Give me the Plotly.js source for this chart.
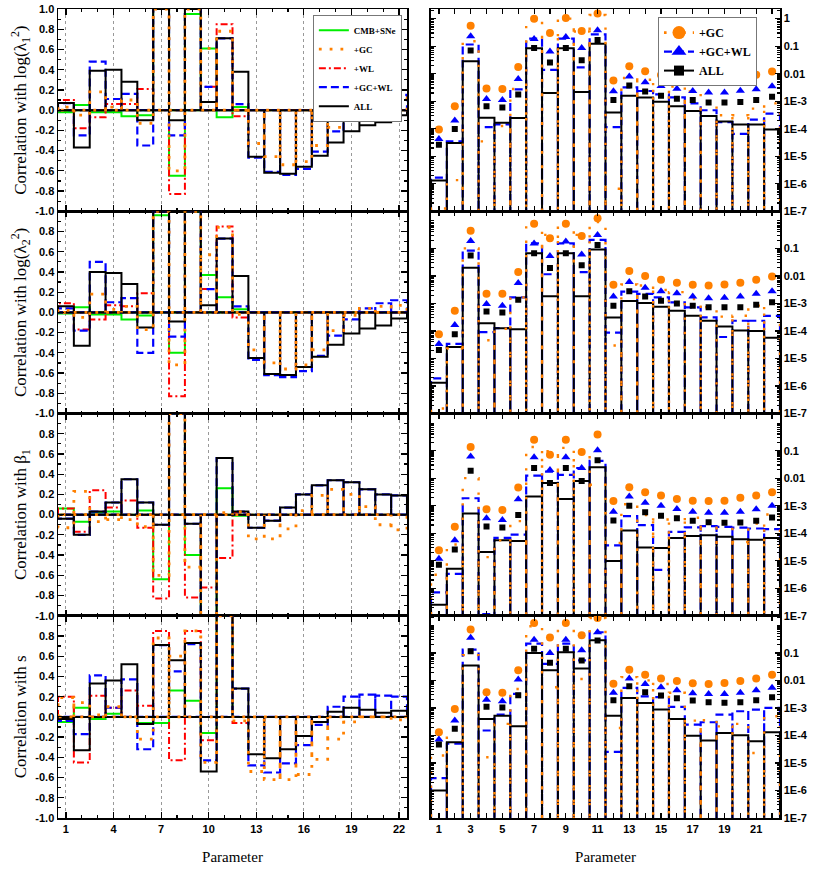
<!DOCTYPE html>
<html><head><meta charset="utf-8">
<script src="https://cdn.plot.ly/plotly-3.0.1.min.js"></script>
<style>html,body{margin:0;padding:0;background:#fff}#chart{width:830px;height:882px}</style>
</head><body><div id="chart"></div>
<script>
// ---------- categories / ticks ----------
const params = [1,2,3,4,5,6,7,8,9,10,11,12,13,14,15,16,17,18,19,20,21,22];
const corrTickVals = [-1,-0.8,-0.6,-0.4,-0.2,0,0.2,0.4,0.6,0.8,1];
const corrTickText = ['-1.0','-0.8','-0.6','-0.4','-0.2','0.0','0.2','0.4','0.6','0.8','1.0'];
const logTickVals = [1e-7,1e-6,1e-5,1e-4,1e-3,0.01,0.1,1];
const logTickText = ['1E-7','1E-6','1E-5','1E-4','1E-3','0.01','0.1','1'];
const leftTitles = ['Correlation with log(λ<sub>1</sub><sup>2</sup>)','Correlation with log(λ<sub>2</sub><sup>2</sup>)','Correlation with β<sub>1</sub>','Correlation with s'];
const seriesNames = ['CMB+SNe','+GC','+WL','+GC+WL','ALL'];

// ---------- left column: correlation coefficients ----------
// row 1: log(lambda1^2)
const L1_CMB  = [-0.02,0.05,-0.02,-0.02,-0.06,-0.05,1.0,-0.65,0.95,0.61,-0.07,0.03,0,0,0,0,0,0,0,0,0,0];
const L1_GC   = [0.03,-0.05,0.18,0.03,0.10,-0.13,1.0,-0.60,1.0,0.61,0.78,0.0,-0.33,-0.46,-0.54,-0.51,-0.35,-0.17,0.0,0.07,0.09,0.12];
const L1_WL   = [0.10,-0.18,-0.07,0.06,0.06,0.21,1.0,-0.83,1.0,0.23,0.85,-0.06,0,0,0,0,0,0,0,0,0,0];
const L1_GCWL = [0.07,-0.25,0.48,0.11,0.16,-0.35,1.0,-0.25,1.0,0.23,0.71,0.06,-0.47,-0.61,-0.64,-0.58,-0.41,-0.21,-0.05,0.06,0.12,0.15];
const L1_ALL  = [0.07,-0.37,0.39,0.40,0.28,-0.10,1.0,-0.10,1.0,0.08,0.71,0.38,-0.46,-0.62,-0.63,-0.56,-0.45,-0.32,-0.21,-0.15,-0.12,-0.05];
// row 2: log(lambda2^2)
const L2_CMB  = [-0.01,0.05,-0.02,-0.02,-0.07,-0.03,0.96,-0.40,1.0,0.37,0.15,0.03,0,0,0,0,0,0,0,0,0,0];
const L2_GC   = [0.02,-0.05,0.18,0.03,0.06,-0.17,1.0,-0.52,1.0,0.57,0.84,-0.02,-0.37,-0.50,-0.56,-0.52,-0.37,-0.18,-0.03,0.04,0.06,0.07];
const L2_WL   = [0.09,-0.17,-0.07,0.07,0.06,0.19,1.0,-0.83,1.0,0.23,0.85,-0.05,0,0,0,0,0,0,0,0,0,0];
const L2_GCWL = [0.04,-0.18,0.50,0.10,0.14,-0.40,1.0,-0.24,1.0,0.23,0.73,0.06,-0.47,-0.62,-0.64,-0.58,-0.43,-0.23,-0.07,0.04,0.09,0.12];
const L2_ALL  = [0.06,-0.33,0.40,0.39,0.28,-0.15,1.0,-0.09,1.0,0.07,0.73,0.36,-0.45,-0.61,-0.62,-0.54,-0.44,-0.32,-0.21,-0.16,-0.13,-0.06];
// row 3: beta1
const L3_CMB  = [0.06,-0.07,0.02,0.03,0.0,0.04,-0.64,1.0,-0.40,-1.0,0.26,-0.01,0,0,0,0,0,0,0,0,0,0];
const L3_GC   = [-0.13,0.23,-0.07,-0.05,-0.05,-0.12,-0.60,1.0,-0.52,-1.0,0.02,0.03,-0.24,-0.24,-0.14,0.04,0.19,0.25,0.20,0.08,-0.10,-0.15];
const L3_WL   = [0.06,-0.17,0.24,0.07,0.14,-0.13,-0.83,1.0,-0.82,-0.72,-0.43,0.02,0,0,0,0,0,0,0,0,0,0];
const L3_GCWL = [-0.04,-0.20,0.03,0.12,0.35,0.12,-0.10,1.0,-0.09,-1.0,0.56,0.03,-0.13,-0.06,0.07,0.20,0.29,0.34,0.32,0.25,0.20,0.19];
const L3_ALL  = [-0.04,-0.20,0.03,0.12,0.35,0.12,-0.10,1.0,-0.09,-1.0,0.56,0.03,-0.13,-0.06,0.07,0.20,0.29,0.34,0.32,0.25,0.20,0.19];
// row 4: s
const L4_CMB  = [-0.05,0.09,-0.02,0.03,0.0,-0.06,-0.06,0.26,0.16,-0.16,1.0,0.0,0,0,0,0,0,0,0,0,0,0];
const L4_GC   = [0.19,0.14,0.02,0.10,0.0,-0.22,0.78,0.60,0.85,-0.45,1.0,-0.04,-0.54,-0.62,-0.62,-0.57,-0.42,-0.22,-0.05,0.0,0.0,-0.03];
const L4_WL   = [0.20,-0.45,0.21,0.09,0.26,0.11,0.85,-0.43,0.85,-0.23,1.0,-0.06,0,0,0,0,0,0,0,0,0,0];
const L4_GCWL = [-0.04,-0.17,0.41,0.09,0.37,-0.32,0.71,0.45,0.72,-0.43,1.0,0.28,-0.48,-0.55,-0.46,-0.28,-0.08,0.10,0.20,0.22,0.21,0.20];
const L4_ALL  = [-0.02,-0.33,0.33,0.36,0.52,-0.07,0.71,0.56,0.73,-0.54,1.0,0.28,-0.37,-0.41,-0.32,-0.19,-0.05,0.05,0.09,0.07,0.04,0.06];

// ---------- right column: values read as log10 exponents ----------
const R1_GC_bar_log10   = [-6.9,-5.87,-0.82,-4.46,-3.9,-2.56,0.0,-0.47,0.0,-0.47,0.13,-6.18,-2.16,-2.22,-2.29,-2.47,-2.65,-3.02,-3.51,-3.51,-3.27,-3.08];
const R1_GCWL_bar_log10 = [-5.78,-4.46,-0.94,-3.94,-3.84,-2.57,-0.73,-1.86,-0.73,-1.77,-0.57,-3.94,-2.50,-2.63,-2.75,-2.86,-3.08,-3.33,-3.76,-4.19,-3.67,-3.45];
const R1_ALL_bar_log10  = [-5.88,-4.52,-1.55,-3.60,-3.78,-3.61,-1.08,-2.70,-1.08,-2.67,-0.91,-3.41,-2.80,-2.87,-3.02,-3.18,-3.36,-3.54,-3.74,-3.85,-3.85,-4.03];
const R1_GC_pt_log10    = [-4.03,-3.18,-0.26,-2.54,-2.56,-1.76,0.0,-0.52,0.02,-0.45,0.19,-2.25,-1.73,-1.91,-2.05,-2.15,-2.22,-2.25,-2.22,-2.16,-2.04,-1.92];
const R1_GCWL_pt_log10  = [-4.37,-3.70,-0.64,-2.92,-2.96,-2.19,-0.74,-1.19,-0.67,-1.07,-0.42,-2.64,-2.10,-2.31,-2.45,-2.55,-2.63,-2.68,-2.68,-2.62,-2.57,-2.46];
const R1_ALL_pt_log10   = [-4.58,-4.01,-1.16,-3.18,-3.23,-2.76,-1.07,-1.59,-1.07,-1.51,-0.78,-2.96,-2.43,-2.65,-2.80,-2.91,-2.96,-3.05,-3.05,-3.03,-2.96,-2.84];

const R2_GC_bar_log10   = [-6.82,-4.64,-1.0,-4.34,-3.92,-2.78,-0.1,-0.51,-0.1,-0.51,-0.04,-4.53,-2.31,-2.35,-2.51,-2.59,-2.84,-3.14,-3.48,-3.45,-3.08,-2.98];
const R2_GCWL_bar_log10 = [-5.72,-4.47,-1.08,-4.04,-3.90,-2.78,-0.82,-1.94,-0.82,-1.86,-0.69,-4.06,-2.57,-2.65,-2.78,-2.96,-3.14,-3.51,-4.22,-3.63,-3.63,-3.45];
const R2_ALL_bar_log10  = [-5.88,-4.58,-1.70,-3.72,-3.90,-3.94,-1.18,-2.74,-1.18,-2.74,-1.04,-3.51,-2.91,-2.98,-3.12,-3.27,-3.45,-3.63,-3.84,-3.98,-4.00,-4.25];
const R2_GC_pt_log10    = [-4.12,-3.27,-0.36,-2.65,-2.65,-1.86,-0.10,-0.63,-0.10,-0.55,0.10,-2.32,-1.82,-2.0,-2.14,-2.25,-2.32,-2.35,-2.31,-2.25,-2.14,-2.02];
const R2_GCWL_pt_log10  = [-4.47,-3.78,-0.73,-3.02,-3.08,-2.26,-0.82,-1.28,-0.75,-1.22,-0.51,-2.75,-2.22,-2.43,-2.56,-2.63,-2.75,-2.81,-2.79,-2.75,-2.65,-2.56];
const R2_ALL_pt_log10   = [-4.69,-4.12,-1.26,-3.29,-3.33,-2.87,-1.18,-1.71,-1.18,-1.61,-0.88,-3.08,-2.56,-2.75,-2.90,-3.0,-3.08,-3.14,-3.14,-3.14,-3.05,-2.96];

const R3_GC_bar_log10   = [-5.51,-4.41,-2.0,-4.87,-4.26,-3.56,-0.87,-1.02,-0.90,-1.06,-2.24,-4.35,-2.95,-3.34,-3.50,-3.40,-3.44,-3.56,-3.59,-4.32,-3.65,-3.32];
const R3_GCWL_bar_log10 = [-6.15,-5.48,-2.73,-6.94,-4.17,-4.05,-1.91,-1.76,-1.88,-1.63,-1.37,-4.44,-3.38,-3.71,-5.33,-3.95,-3.79,-3.74,-3.77,-3.80,-3.83,-3.85];
const R3_ALL_bar_log10  = [-6.60,-5.29,-3.28,-4.68,-4.26,-4.28,-2.67,-2.18,-2.76,-2.10,-1.60,-5.01,-3.90,-4.52,-4.54,-4.17,-4.10,-4.07,-4.13,-4.22,-4.24,-4.17];
const R3_GC_pt_log10    = [-4.62,-3.77,-0.87,-3.13,-3.16,-2.34,-0.60,-1.15,-0.60,-1.05,-0.41,-2.83,-2.33,-2.51,-2.63,-2.76,-2.82,-2.83,-2.82,-2.71,-2.63,-2.51];
const R3_GCWL_pt_log10  = [-4.93,-4.26,-1.21,-3.46,-3.52,-2.77,-1.24,-1.70,-1.24,-1.63,-0.99,-3.22,-2.67,-2.89,-3.0,-3.12,-3.22,-3.26,-3.26,-3.22,-3.13,-3.0];
const R3_ALL_pt_log10   = [-5.15,-4.59,-1.73,-3.76,-3.79,-3.34,-1.63,-2.18,-1.63,-2.10,-1.35,-3.54,-3.0,-3.24,-3.37,-3.46,-3.55,-3.60,-3.62,-3.61,-3.55,-3.43];

const R4_GC_bar_log10   = [-4.73,-3.79,-1.08,-4.79,-3.58,-2.31,-0.03,-2.25,0.03,-1.95,0.27,-3.73,-1.88,-2.0,-2.13,-2.45,-3.46,-3.45,-3.67,-3.58,-4.64,-3.30];
const R4_GCWL_bar_log10 = [-5.55,-4.30,-0.88,-3.82,-3.24,-2.49,-0.66,-1.40,-0.66,-1.27,-0.25,-4.60,-2.27,-2.58,-2.61,-2.96,-3.61,-3.52,-3.24,-3.12,-3.06,-3.0];
const R4_ALL_bar_log10  = [-6.0,-4.25,-1.46,-3.40,-3.28,-3.67,-1.0,-1.63,-0.98,-1.57,-0.54,-3.28,-2.64,-2.82,-3.06,-3.40,-4.01,-4.18,-3.91,-3.99,-4.21,-3.88];
const R4_GC_pt_log10    = [-3.88,-3.04,-0.15,-2.43,-2.45,-1.63,0.09,-0.44,0.09,-0.36,0.27,-2.12,-1.61,-1.79,-1.93,-2.02,-2.10,-2.13,-2.09,-2.02,-1.93,-1.79];
const R4_GCWL_pt_log10  = [-4.15,-3.46,-0.45,-2.70,-2.76,-1.97,-0.52,-1.0,-0.52,-0.90,-0.25,-2.45,-1.93,-2.13,-2.25,-2.36,-2.47,-2.49,-2.49,-2.45,-2.36,-2.27];
const R4_ALL_pt_log10   = [-4.33,-3.76,-0.94,-2.96,-2.98,-2.54,-0.85,-1.36,-0.85,-1.28,-0.55,-2.72,-2.21,-2.43,-2.55,-2.65,-2.73,-2.79,-2.81,-2.79,-2.72,-2.61];

// ---------- assemble ----------
const leftRows = [
  [L1_CMB,L1_GC,L1_WL,L1_GCWL,L1_ALL],
  [L2_CMB,L2_GC,L2_WL,L2_GCWL,L2_ALL],
  [L3_CMB,L3_GC,L3_WL,L3_GCWL,L3_ALL],
  [L4_CMB,L4_GC,L4_WL,L4_GCWL,L4_ALL]
];
const rightRows = [
  {gcBar:R1_GC_bar_log10,gcwlBar:R1_GCWL_bar_log10,allBar:R1_ALL_bar_log10,gcPt:R1_GC_pt_log10,gcwlPt:R1_GCWL_pt_log10,allPt:R1_ALL_pt_log10},
  {gcBar:R2_GC_bar_log10,gcwlBar:R2_GCWL_bar_log10,allBar:R2_ALL_bar_log10,gcPt:R2_GC_pt_log10,gcwlPt:R2_GCWL_pt_log10,allPt:R2_ALL_pt_log10},
  {gcBar:R3_GC_bar_log10,gcwlBar:R3_GCWL_bar_log10,allBar:R3_ALL_bar_log10,gcPt:R3_GC_pt_log10,gcwlPt:R3_GCWL_pt_log10,allPt:R3_ALL_pt_log10},
  {gcBar:R4_GC_bar_log10,gcwlBar:R4_GCWL_bar_log10,allBar:R4_ALL_bar_log10,gcPt:R4_GC_pt_log10,gcwlPt:R4_GCWL_pt_log10,allPt:R4_ALL_pt_log10}
];

const COL = {cmb:'#00ee00', gc:'#ff8000', wl:'#ff0000', gcwl:'#0000ff', all:'#000000'};
const leftStyle = [
  {name:'CMB+SNe', line:{color:COL.cmb,width:2,dash:'solid'}, rank:1},
  {name:'+GC',     line:{color:COL.gc,width:2.8,dash:'2.8px,8px'}, rank:2},
  {name:'+WL',     line:{color:COL.wl,width:2,dash:'7px,3px,2px,3px'}, rank:3},
  {name:'+GC+WL',  line:{color:COL.gcwl,width:2.2,dash:'8px,4px'}, rank:4},
  {name:'ALL',     line:{color:COL.all,width:2,dash:'solid'}, rank:5}
];
const drawOrder = [0,2,3,4,1]; // CMB, WL, GCWL, ALL, GC on top

function barOutline(xs, vals, base, closeBase) {
  const px = [], py = [];
  for (let i = 0; i < xs.length; i++) {
    const l = xs[i] - 0.5, r = xs[i] + 0.5;
    px.push(l, l, r, r); py.push(base, vals[i], vals[i], base);
  }
  if (closeBase) { px.push(xs[0] - 0.5); py.push(base); }
  return {x: px, y: py};
}
const pow10 = a => a.map(v => Math.pow(10, v));

const traces = [];
leftRows.forEach((row, r) => {
  const n = r + 1;
  drawOrder.forEach(k => {
    const p = barOutline(params, row[k], 0, true);
    traces.push({
      type:'scatter', mode:'lines', x:p.x, y:p.y, xaxis:'x'+n, yaxis:'y'+n,
      name:leftStyle[k].name, line:leftStyle[k].line, hoverinfo:'skip',
      showlegend: r === 0, legend:'legend', legendrank:leftStyle[k].rank
    });
  });
});
const BASE_LOG = 1e-8;
rightRows.forEach((row, r) => {
  const n = r + 5;
  const xa = 'x'+n, ya = 'y'+n;
  const b1 = barOutline(params, pow10(row.gcwlBar), BASE_LOG, false);
  traces.push({type:'scatter',mode:'lines',x:b1.x,y:b1.y,xaxis:xa,yaxis:ya,showlegend:false,hoverinfo:'skip',
    line:{color:COL.gcwl,width:2.2,dash:'8px,5px'}});
  const b2 = barOutline(params, pow10(row.allBar), BASE_LOG, false);
  traces.push({type:'scatter',mode:'lines',x:b2.x,y:b2.y,xaxis:xa,yaxis:ya,showlegend:false,hoverinfo:'skip',
    line:{color:COL.all,width:2}});
  const b3 = barOutline(params, pow10(row.gcBar), BASE_LOG, false);
  traces.push({type:'scatter',mode:'lines',x:b3.x,y:b3.y,xaxis:xa,yaxis:ya,showlegend:false,hoverinfo:'skip',
    line:{color:COL.gc,width:2.4,dash:'2.4px,12px'}});
  traces.push({type:'scatter',mode:'markers',x:params,y:pow10(row.gcPt),xaxis:xa,yaxis:ya,showlegend:false,
    marker:{symbol:'circle',size:8,color:COL.gc}});
  traces.push({type:'scatter',mode:'markers',x:params,y:pow10(row.gcwlPt),xaxis:xa,yaxis:ya,showlegend:false,
    marker:{symbol:'triangle-up',size:8,color:COL.gcwl}});
  traces.push({type:'scatter',mode:'markers',x:params,y:pow10(row.allPt),xaxis:xa,yaxis:ya,showlegend:false,
    marker:{symbol:'square',size:6,color:COL.all}});
});
// legend-only entries for the right column
[
  {name:'+GC', line:{color:COL.gc,width:2.6,dash:'2.6px,7px'}, marker:{symbol:'circle',size:13,color:COL.gc}},
  {name:'+GC+WL', line:{color:COL.gcwl,width:2.2,dash:'8px,4px'}, marker:{symbol:'triangle-up',size:13,color:COL.gcwl}},
  {name:'ALL', line:{color:COL.all,width:2}, marker:{symbol:'square',size:10,color:COL.all}}
].forEach((e, i) => traces.push({type:'scatter',mode:'lines+markers',x:[null],y:[null],xaxis:'x5',yaxis:'y5',
  name:e.name,line:e.line,marker:e.marker,legend:'legend2',legendrank:i+1,showlegend:true}));

// ---------- layout ----------
const tickFont = {family:'Liberation Sans, Arial, sans-serif', size:11, weight:'bold', color:'#000'};
const serif = 'Liberation Serif, Times New Roman, serif';
const rowDomains = [[0.75,1],[0.5,0.75],[0.25,0.5],[0,0.25]];
const leftX = [0,0.4834], rightX = [0.5166,1];
const frame = {showline:true, linecolor:'#000', linewidth:1.5, mirror:'allticks', ticks:'inside', tickcolor:'#000', tickwidth:1.2};

const layout = {
  width:830, height:882, paper_bgcolor:'#fff', plot_bgcolor:'#fff',
  margin:{l:58, r:50, t:9, b:64},
  showlegend:true,
  legend:{x:0.353, y:0.993, xanchor:'left', yanchor:'top', bgcolor:'#fff', bordercolor:'#777', borderwidth:1,
    font:{family:serif, size:9, weight:'bold', color:'#000'}, tracegroupgap:0, itemclick:false},
  legend2:{x:0.831, y:0.99, xanchor:'left', yanchor:'top', bgcolor:'#fff', bordercolor:'#777', borderwidth:1,
    font:{family:serif, size:12, weight:'bold', color:'#000'}, tracegroupgap:0, itemclick:false}
};
for (let r = 0; r < 4; r++) {
  const n = r + 1, m = r + 5;
  // lower rows share their top edge with the row above, whose bottom label is the one shown there
  const cVals = r === 0 ? corrTickVals : corrTickVals.slice(0, -1);
  const cText = r === 0 ? corrTickText : corrTickText.slice(0, -1);
  const lVals = r === 0 ? logTickVals : logTickVals.slice(0, -1);
  const lText = r === 0 ? logTickText : logTickText.slice(0, -1);
  const xl = Object.assign({}, frame, {
    domain:leftX, anchor:'y'+n, range:[0.5,22.5], tickmode:'linear', tick0:1, dtick:3, ticklen:6,
    showgrid:true, gridcolor:'#999', griddash:'dot', gridwidth:1, zeroline:false,
    minor:{ticks:'inside', ticklen:3, dtick:1, tick0:1, tickcolor:'#000', showgrid:false},
    showticklabels: r === 3, tickfont:tickFont
  });
  const xr = Object.assign({}, frame, {
    domain:rightX, anchor:'y'+m, range:[0.5,22.5], tickmode:'linear', tick0:1, dtick:2, ticklen:5,
    minor:{ticks:'inside', ticklen:5, dtick:1, tick0:1, tickcolor:'#000', showgrid:false},
    showgrid:false, zeroline:false, showticklabels: r === 3, tickfont:tickFont
  });
  if (r === 3) {
    xl.title = {text:'Parameter', font:{family:serif, size:15, color:'#000'}, standoff:18};
    xr.title = {text:'Parameter', font:{family:serif, size:15, color:'#000'}, standoff:18};
  }
  layout['xaxis'+n] = xl;
  layout['xaxis'+m] = xr;
  layout['yaxis'+n] = Object.assign({}, frame, {
    domain:rowDomains[r], anchor:'x'+n, range:[-1,1], tickmode:'array', tickvals:cVals, ticktext:cText, ticklen:6,
    minor:{ticks:'inside', ticklen:3, dtick:0.1, tick0:0, tickcolor:'#000', showgrid:false},
    showgrid:false, zeroline:true, zerolinecolor:'#000', zerolinewidth:2, tickfont:tickFont,
    title:{text:leftTitles[r], font:{family:serif, size:17, color:'#000'}, standoff:4}
  });
  layout['yaxis'+m] = Object.assign({}, frame, {
    domain:rowDomains[r], anchor:'x'+m, type:'log', range:[-7,0.35], side:'right',
    tickmode:'array', tickvals:lVals, ticktext:lText, ticklen:5,
    minor:{ticks:'inside', ticklen:3, dtick:'D1', tickcolor:'#000', showgrid:false},
    showgrid:false, zeroline:false, tickfont:tickFont
  });
}

Plotly.newPlot('chart', traces, layout, {staticPlot:true});
</script>
</body></html>
